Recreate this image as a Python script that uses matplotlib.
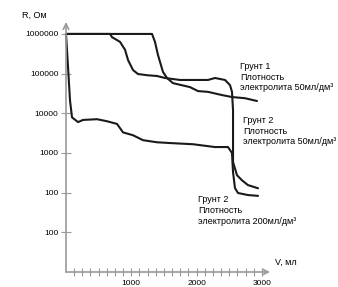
import numpy as np
import matplotlib.pyplot as plt

plt.rcParams['font.family'] = ['Liberation Sans', 'DejaVu Sans']

# Грунт 2, плотность электролита 200 мл/дм3
v_a = [0, 31, 61, 92, 184, 260, 475, 628, 781, 873, 1026, 1179, 1393, 1592,
       1944, 2281, 2480, 2541, 2557, 2587, 2633, 2786, 2940]
r_a = [1e6, 148000, 21400, 7900, 6000, 6800, 7100, 6300, 5400, 3300, 2800,
       2100, 1860, 1780, 1660, 1410, 1410, 1000, 330, 130, 98, 87, 83]

# Грунт 2, плотность электролита 50 мл/дм3
v_b = [0, 674, 704, 827, 904, 950, 1026, 1102, 1240, 1393, 1516, 1745, 1975,
       2174, 2281, 2434, 2511, 2541, 2557, 2557, 2557, 2618, 2695, 2786, 2940]
r_b = [1e6, 1e6, 832000, 631000, 398000, 219000, 123000, 97700, 91200, 87100,
       77600, 69200, 69200, 69200, 77600, 69200, 51300, 34700, 12000, 2090,
       589, 275, 204, 155, 129]

# Грунт 1, плотность электролита 50 мл/дм3
v_c = [0, 1317, 1362, 1408, 1485, 1546, 1638, 1898, 2021, 2174, 2388, 2541,
       2740, 2924]
r_c = [1e6, 1e6, 631000, 295000, 110000, 77600, 57500, 45700, 36300, 34700,
       28800, 25700, 24000, 20400]

y_ticks = [1e6, 1e5, 1e4, 1e3, 1e2, 1e1]
y_labels = ["1000000", "100000", "10000", "1000", "100", "100"]
x_ticks = [1000, 2000, 3000]
x_minor = np.arange(125, 3001, 125)

axis_col = "#9a9a9a"

fig = plt.figure(figsize=(3.38, 2.87), dpi=100)
ax = fig.add_axes([66/338, 15/287, 204/338, 250/287])

for v, r in [(v_a, r_a), (v_b, r_b), (v_c, r_c)]:
    ax.plot(v, r, color="#1a1a1a", lw=1.5, solid_joinstyle="round",
            solid_capstyle="round", clip_on=False)

ax.set_yscale("log")
ax.set_xlim(0, 3123)
ax.set_ylim(1, 2e6)
ax.set_yticks(y_ticks)
ax.set_yticklabels(y_labels)
ax.minorticks_off()
ax.set_xticks(x_ticks)
ax.set_xticks(x_minor, minor=True)
ax.tick_params(axis="y", direction="inout", length=7, color=axis_col,
               labelsize=6, pad=2)
ax.tick_params(axis="x", which="both", direction="inout", length=6,
               color=axis_col, width=0.8, labelsize=6, pad=3)

for s in ["top", "right", "left", "bottom"]:
    ax.spines[s].set_visible(False)

ax.annotate("", xy=(1.0, 0), xytext=(0, 0), xycoords="axes fraction",
            arrowprops=dict(arrowstyle="->", color=axis_col, lw=1.2,
                            shrinkA=0, shrinkB=0))
ax.annotate("", xy=(0, 1.0), xytext=(0, 0), xycoords="axes fraction",
            arrowprops=dict(arrowstyle="->", color=axis_col, lw=1.2,
                            shrinkA=0, shrinkB=0))

fig.text(22/338, 1 - 15/287, "R, Ом", fontsize=6.5, va="center")
fig.text(275/338, 1 - 262/287, "V, мл", fontsize=6.5, va="center")

fs = 6.5
fig.text(240/338, 1 - 62/287, "Грунт 1\nПлотность\nэлектролита 50мл/дм³",
         fontsize=fs, va="top", linespacing=1.25)
fig.text(243/338, 1 - 116/287, "Грунт 2\nПлотность\nэлектролита 50мл/дм³",
         fontsize=fs, va="top", linespacing=1.25)
fig.text(198/338, 1 - 195/287, "Грунт 2\nПлотность\nэлектролита 200мл/дм³",
         fontsize=fs, va="top", linespacing=1.25)

fig.savefig("out.png", dpi=100)
